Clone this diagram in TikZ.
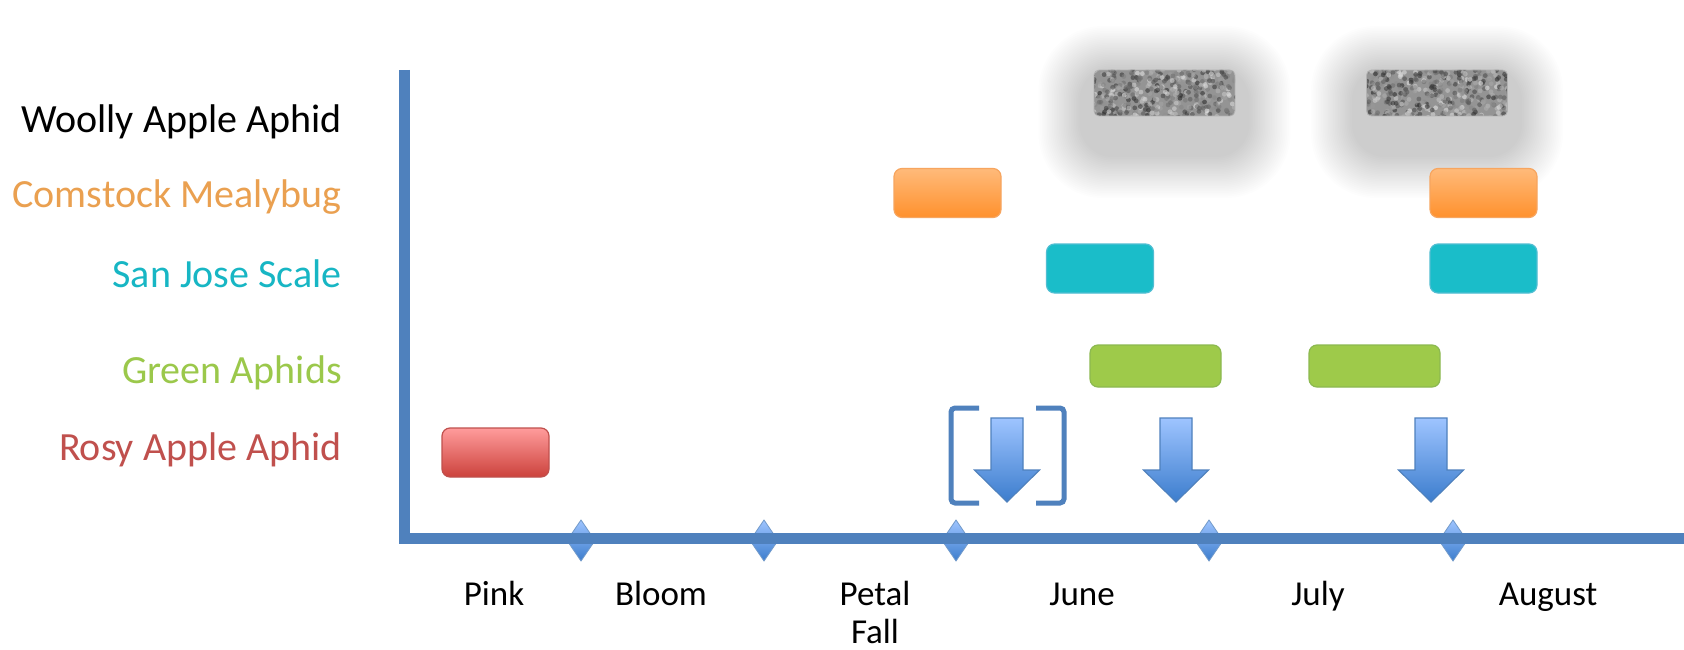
\documentclass[tikz,border=0pt]{standalone}
\usepackage{fontspec}
\setmainfont{Carlito}
\definecolor{axisblue}{RGB}{79,129,189}
\definecolor{arrtop}{RGB}{158,196,255}
\definecolor{arrbot}{RGB}{60,125,205}
\definecolor{orgtop}{RGB}{255,186,122}
\definecolor{orgbot}{RGB}{255,145,45}
\definecolor{orgdraw}{RGB}{247,165,95}
\definecolor{redtop}{RGB}{255,156,156}
\definecolor{redbot}{RGB}{204,66,60}
\definecolor{reddraw}{RGB}{192,80,77}
\definecolor{tealfill}{RGB}{26,189,201}
\definecolor{tealdraw}{RGB}{80,190,210}
\definecolor{grnfill}{RGB}{158,202,74}
\definecolor{grndraw}{RGB}{140,185,80}
\definecolor{txtorg}{RGB}{234,160,80}
\definecolor{txtteal}{RGB}{23,182,196}
\definecolor{txtgrn}{RGB}{155,200,75}
\definecolor{txtred}{RGB}{192,80,77}
\newcommand\myglow[2]{%
  \foreach \k in {0,...,24}{%
    \pgfmathsetmacro\hw{126-1.7*\k}%
    \pgfmathsetmacro\hh{86-1.7*\k}%
    \pgfmathsetmacro\rc{0.75*\hh}%
    \fill[black,opacity=0.0066,rounded corners=\rc pt] ({#1-\hw},{#2-\hh}) rectangle ({#1+\hw},{#2+\hh});
  }}
\newcommand\mynoise[1]{%
  \begin{scope}
    \clip[rounded corners=5pt] ({#1-70.5},70) rectangle ({#1+70.5},116);
    \fill[black!42] ({#1-70.5},70) rectangle ({#1+70.5},116);
    \foreach \i in {1,...,420}{%
      \pgfmathsetmacro\rx{#1-72+144*rnd}%
      \pgfmathsetmacro\ry{68+50*rnd}%
      \pgfmathsetmacro\gv{10+75*rnd}%
      \fill[black!\gv,opacity=0.6] (\rx,\ry) circle (2.4);
    }
  \end{scope}
  \draw[black!30,line width=0.8pt,rounded corners=5pt] ({#1-70.5},70) rectangle ({#1+70.5},116);}
\newcommand\mydownarrow[1]{%
  \draw[arr] ({#1-16},418) -- ({#1+16},418) -- ({#1+16},470) -- ({#1+32.5},470)
    -- (#1,502) -- ({#1-32.5},470) -- ({#1-16},470) -- cycle;}
\newcommand\mydiamond[1]{%
  \draw[dia] (#1,520) -- ({#1+14},540.5) -- (#1,561) -- ({#1-14},540.5) -- cycle;}
\begin{document}
\begin{tikzpicture}[x=1pt,y=-1pt,
  lbl/.style={font=\fontsize{40}{48}\selectfont, anchor=base east, inner sep=0pt},
  mlbl/.style={font=\fontsize{35}{41}\selectfont, anchor=base, inner sep=0pt},
  bar/.style={rounded corners=8pt, minimum width=107pt, minimum height=49pt, line width=1.2pt, inner sep=0pt},
  orgbar/.style={bar, draw=orgdraw, top color=orgtop, bottom color=orgbot},
  redbar/.style={bar, draw=reddraw, top color=redtop, bottom color=redbot},
  tealbar/.style={bar, draw=tealdraw, fill=tealfill},
  grnbar/.style={bar, draw=grndraw, fill=grnfill, minimum width=131pt, minimum height=42pt},
  arr/.style={draw=axisblue, line width=1.2pt, top color=arrtop, bottom color=arrbot},
  dia/.style={draw=axisblue!80, line width=0.8pt, top color=arrtop, bottom color=arrbot},
  brk/.style={draw=axisblue, line width=5pt, rounded corners=4pt},
  axis/.style={draw=axisblue, line width=11pt}]
\useasboundingbox (0,0) rectangle (1684,650);
\fill[white] (0,0) rectangle (1684,650);

% glows and textured boxes (Woolly Apple Aphid)
\myglow{1164.5}{112}
\myglow{1437}{112}
\pgfmathsetseed{7}
\mynoise{1164.5}
\mynoise{1437}

% labels
\node[lbl, text=black] (wool) at (342,132) {Woolly Apple Aphid};
\node[lbl, text=txtorg] (coms) at (342,207) {Comstock Mealybug};
\node[lbl, text=txtteal] (sanj) at (342,287) {San Jose Scale};
\node[lbl, text=txtgrn] (grn) at (342,383) {Green Aphids};
\node[lbl, text=txtred] (rosy) at (342,460) {Rosy Apple Aphid};

% bars
\node[orgbar] (org1) at (947.5,193) {};
\node[orgbar] (org2) at (1483.5,193) {};
\node[tealbar] (teal1) at (1100,268.5) {};
\node[tealbar] (teal2) at (1483.5,268.5) {};
\node[grnbar] (grn1) at (1155.5,366) {};
\node[grnbar] (grn2) at (1374.5,366) {};
\node[redbar] (red1) at (495.5,452.5) {};

% bracket
\draw[brk] (979,408) -- (951,408) -- (951,503) -- (979,503);
\draw[brk] (1036,408) -- (1064,408) -- (1064,503) -- (1036,503);

% arrows
\mydownarrow{1007}
\mydownarrow{1176}
\mydownarrow{1431}

% diamonds and axes
\mydiamond{581}
\mydiamond{764}
\mydiamond{956}
\mydiamond{1209}
\mydiamond{1453}
\draw[axis] (404,70) -- (404,538) -- (1690,538);

% month labels
\node[mlbl] (pink) at (494,605) {Pink};
\node[mlbl] (bloom) at (661,605) {Bloom};
\node[mlbl] (petal) at (875,605) {Petal};
\node[mlbl] (fall) at (875,643) {Fall};
\node[mlbl] (june) at (1082,605) {June};
\node[mlbl] (july) at (1318,605) {July};
\node[mlbl] (aug) at (1548,605) {August};
\end{tikzpicture}
\end{document}
